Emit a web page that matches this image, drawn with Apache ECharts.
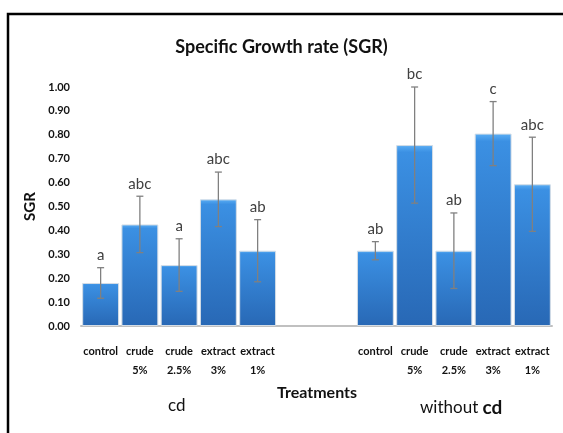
<!DOCTYPE html>
<html><head><meta charset="utf-8">
<script src="https://cdn.jsdelivr.net/npm/echarts@6/dist/echarts.min.js"></script>
<style>html,body{margin:0;padding:0;background:#fff}#c{width:563px;height:433px}</style>
</head><body><div id="c"></div>
<script>
var categories = ['control','crude\n5%','crude\n2.5%','extract\n3%','extract\n1%','','','control','crude\n5%','crude\n2.5%','extract\n3%','extract\n1%'];
var sgrValues = [0.18,0.425,0.255,0.53,0.315,null,null,0.315,0.757,0.315,0.805,0.593];
var sgrErrors = [0.064,0.118,0.11,0.114,0.13,null,null,0.038,0.243,0.158,0.134,0.197];
var letters = ['a','abc','a','abc','ab','','','ab','bc','ab','c','abc'];
var yTicks = [0,0.1,0.2,0.3,0.4,0.5,0.6,0.7,0.8,0.9,1.0];
var groupLabels = ['cd','without cd'];

var chart = echarts.init(document.getElementById('c'));
var errData = [];
for (var i=0;i<categories.length;i++){
  if (sgrValues[i]==null) continue;
  errData.push([i, sgrValues[i]-sgrErrors[i], sgrValues[i]+sgrErrors[i], letters[i]]);
}
var F = 'Lato, "Open Sans", sans-serif';
chart.setOption({
  animation:false,
  title:{text:'Specific Growth rate (SGR)',left:'center',top:33,
    textStyle:{fontFamily:F,fontSize:18,fontWeight:'bold',color:'#111'}},
  grid:{left:81,right:11,top:87,bottom:107,containLabel:false},
  xAxis:{type:'category',data:categories,
    axisLine:{lineStyle:{color:'#c0c0c0',width:2}},axisTick:{show:false},
    axisLabel:{interval:0,fontFamily:F,fontSize:11,fontWeight:'bold',color:'#111',margin:16,lineHeight:19}},
  yAxis:{type:'value',min:0,max:1,interval:0.1,
    name:'SGR',nameLocation:'middle',nameGap:42,nameRotate:90,
    nameTextStyle:{fontFamily:F,fontSize:15,fontWeight:'bold',color:'#111'},
    axisLine:{show:false},axisTick:{show:false},splitLine:{show:false},
    axisLabel:{fontFamily:F,fontSize:11,fontWeight:'bold',color:'#111',margin:11,
      formatter:function(v){return v.toFixed(2);}}},
  series:[
    {type:'bar',data:sgrValues,barCategoryGap:'6%',
      itemStyle:{borderColor:'#d4dde6',borderWidth:1,
        color:new echarts.graphic.LinearGradient(0,0,0,1,[
          {offset:0,color:'#5aaef5'},{offset:0.04,color:'#3b90e3'},{offset:1,color:'#2868b5'}])}},
    {type:'custom',data:errData,z:10,
      renderItem:function(params,api){
        var x=api.value(0), lo=api.coord([x,api.value(1)]), hi=api.coord([x,api.value(2)]);
        var cx=lo[0], w=5;
        var st={stroke:'#808080',lineWidth:1.3};
        return {type:'group',children:[
          {type:'line',shape:{x1:cx,y1:lo[1],x2:cx,y2:hi[1]},style:st},
          {type:'line',shape:{x1:cx-w/2-1,y1:lo[1],x2:cx+w/2+1,y2:lo[1]},style:st},
          {type:'line',shape:{x1:cx-w/2-1,y1:hi[1],x2:cx+w/2+1,y2:hi[1]},style:st},
          {type:'text',style:{text:letters[x],x:cx,y:hi[1]-5,align:'center',verticalAlign:'bottom',
            font:'15px '+F,fill:'#404040'}}
        ]};
      }}
  ],
  graphic:[
    {type:'rect',shape:{x:8,y:14,width:620,height:500},style:{fill:null,stroke:'#000',lineWidth:2.5},silent:true},
    {type:'text',left:277,top:385,style:{text:'Treatments',font:'bold 16px '+F,fill:'#111'}},
    {type:'text',left:168,top:397,style:{text:groupLabels[0],font:'17px '+F,fill:'#111'}},
    {type:'text',left:420,top:398,style:{text:'{a|without }{b|cd}',rich:{a:{fontFamily:F,fill:'#111',fontSize:17},b:{fontSize:19,fontWeight:'bold',fontFamily:F,fill:'#111'}}}}
  ]
});
</script></body></html>
